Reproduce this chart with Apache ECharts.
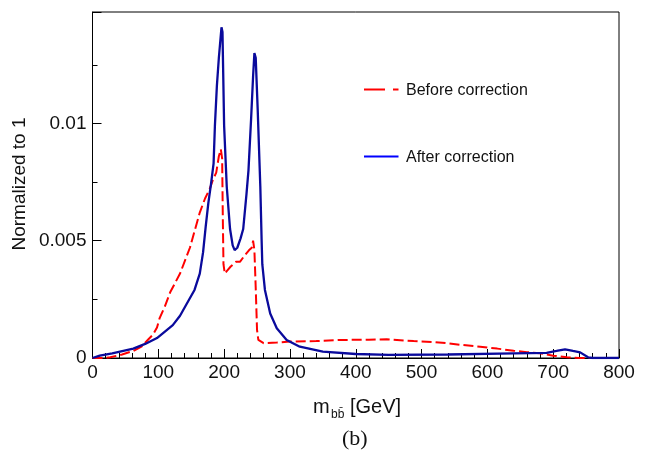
<!DOCTYPE html>
<html>
<head>
<meta charset="utf-8">
<script src="https://cdn.jsdelivr.net/npm/echarts@6/dist/echarts.min.js"></script>
<style>
html,body{margin:0;padding:0;background:#fff;}
#c{width:652px;height:451px;}
</style>
</head>
<body>
<div id="c"></div>
<script>
// m_bb [GeV] sample positions and normalized values
const afterMass = [0, 11, 30, 62, 80, 98, 122, 133, 143, 155, 163, 168, 172, 176, 180, 184, 186, 189, 192, 196, 197.5, 200, 204, 209, 213, 216, 220, 225, 229, 234, 237, 241, 244, 246, 248, 251, 255, 257, 258, 262, 270, 280, 295, 315, 350, 400, 450, 540, 640, 690, 705, 718, 730, 741, 753, 760, 800];
const afterVals = [0, 0.0001, 0.0002, 0.0004, 0.0006, 0.00085, 0.0014, 0.0018, 0.0023, 0.0029, 0.0036, 0.0045, 0.0056, 0.0066, 0.0074, 0.0083, 0.0099, 0.0116, 0.0128, 0.0141, 0.0139, 0.0099, 0.0073, 0.0055, 0.0048, 0.0046, 0.0047, 0.0051, 0.0055, 0.0070, 0.0080, 0.0102, 0.0120, 0.0130, 0.0128, 0.0106, 0.0073, 0.0050, 0.0040, 0.0029, 0.0019, 0.00127, 0.00077, 0.00048, 0.00027, 0.00017, 0.00013, 0.00015, 0.0002, 0.00022, 0.0003, 0.00037, 0.0003, 0.00024, 0.00003, 0, 0];

const beforeMass = [0, 15, 27, 45, 62, 75, 85, 92, 98, 102, 110, 118, 133, 148, 159, 163, 171, 178, 183, 188, 192, 195, 197, 198, 199, 201, 204, 210, 218, 224, 232, 238, 242, 244, 246, 248, 250, 252, 260, 280, 300, 340, 376, 420, 447, 488, 520, 538, 560, 589, 615, 640, 660, 680, 700, 721, 740, 800];
const beforeVals = [0, 0, 0.00003, 0.00015, 0.0003, 0.0005, 0.0008, 0.0010, 0.0013, 0.0017, 0.0022, 0.0028, 0.0036, 0.0047, 0.0058, 0.0062, 0.0068, 0.0072, 0.0076, 0.0079, 0.0086, 0.0089, 0.0085, 0.0060, 0.0040, 0.0036, 0.0037, 0.0039, 0.0041, 0.0041, 0.0044, 0.0046, 0.0047, 0.0050, 0.0046, 0.0030, 0.0012, 0.00077, 0.00063, 0.00066, 0.0007, 0.00072, 0.00077, 0.00078, 0.0008, 0.00072, 0.00068, 0.00063, 0.00056, 0.00048, 0.0004, 0.00031, 0.00025, 0.0002, 0.0001, 0.00003, 0, 0];

const xTicks = [0, 100, 200, 300, 400, 500, 600, 700, 800];
const yTickLabels = ['0', '0.005', '0.01'];
const seriesNames = ['Before correction', 'After correction'];

const pair = (xs, ys) => xs.map((x, i) => [x, ys[i]]);

const FONT = 'Liberation Sans, Arial, Helvetica, sans-serif';
const chart = echarts.init(document.getElementById('c'), null, {renderer: 'canvas'});
chart.setOption({
  animation: false,
  backgroundColor: '#ffffff',
  grid: {left: 92.5, right: 33, top: 12, bottom: 93, show: true, borderColor: '#000', borderWidth: 1, backgroundColor: 'transparent'},
  xAxis: {
    type: 'value', min: xTicks[0], max: xTicks[xTicks.length - 1], interval: 100,
    axisLine: {show: true, lineStyle: {color: '#000', width: 1}},
    axisTick: {show: true, inside: true, length: 9, lineStyle: {color: '#000', width: 1}},
    minorTick: {show: true, splitNumber: 5, length: 5, lineStyle: {color: '#000', width: 1}},
    splitLine: {show: false},
    axisLabel: {color: '#111', fontFamily: FONT, fontSize: 19, margin: 5}
  },
  yAxis: {
    type: 'value', min: 0, max: 0.01475, interval: 0.005,
    axisLine: {show: true, lineStyle: {color: '#000', width: 1}},
    axisTick: {show: true, inside: true, length: 9, lineStyle: {color: '#000', width: 1}},
    minorTick: {show: true, splitNumber: 2, length: 5, lineStyle: {color: '#000', width: 1}},
    splitLine: {show: false},
    axisLabel: {color: '#111', fontFamily: FONT, fontSize: 19, margin: 6, showMaxLabel: false,
      formatter: v => { const i = Math.round(v / 0.005); return yTickLabels[i] !== undefined && Math.abs(v - i*0.005) < 1e-9 ? yTickLabels[i] : ''; }}
  },
  series: [
    {name: seriesNames[0], type: 'line', data: pair(beforeMass, beforeVals), symbol: 'none', z: 2,
     lineStyle: {color: '#ff0000', width: 2, type: [10, 4]}},
    {name: seriesNames[1], type: 'line', data: pair(afterMass, afterVals), symbol: 'none', z: 3,
     lineStyle: {color: '#0a0a9c', width: 2.3}}
  ],
  graphic: [
    {type: 'line', shape: {x1: 364, y1: 89.5, x2: 385, y2: 89.5}, style: {stroke: '#ff0000', lineWidth: 2}},
    {type: 'line', shape: {x1: 393, y1: 89.5, x2: 398.5, y2: 89.5}, style: {stroke: '#ff0000', lineWidth: 2}},
    {type: 'text', left: 406, top: 83, style: {text: seriesNames[0], fill: '#111', font: '16px ' + FONT}},
    {type: 'line', shape: {x1: 364, y1: 156.5, x2: 398.5, y2: 156.5}, style: {stroke: '#0000ff', lineWidth: 2}},
    {type: 'text', left: 406, top: 150, style: {text: seriesNames[1], fill: '#111', font: '16px ' + FONT}},
    {type: 'text', x: 20, y: 184, rotation: Math.PI / 2, style: {text: 'Normalized to 1', fill: '#111', font: '19px ' + FONT, textAlign: 'center', textVerticalAlign: 'middle'}},
    {type: 'text', left: 313, top: 397, style: {text: 'm', fill: '#111', font: '20px ' + FONT}},
    {type: 'text', left: 331, top: 409, style: {text: 'bb\u0304', fill: '#111', font: '12px ' + FONT}},
    {type: 'text', left: 350, top: 397, style: {text: '[GeV]', fill: '#111', font: '20px ' + FONT}},
    {type: 'text', left: 342, top: 428, style: {text: '(b)', fill: '#111', font: '22px Liberation Serif, Times New Roman, serif'}}
  ]
});
</script>
</body>
</html>
